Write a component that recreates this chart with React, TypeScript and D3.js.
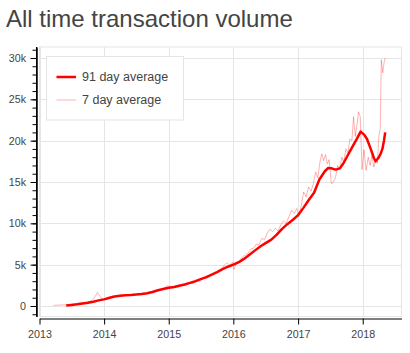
import { useEffect, useRef } from 'react';
import { select, scaleTime, scaleLinear, axisLeft, axisBottom, line, range, timeFormat } from 'd3';

// 91 day average (thick line)
const avg91Dates = [
  '2013-06-01', '2013-07-01', '2013-08-01', '2013-09-01', '2013-10-01', '2013-11-01', '2013-12-01',
  '2014-01-01', '2014-02-01', '2014-03-01', '2014-04-01', '2014-05-01', '2014-06-01', '2014-07-01',
  '2014-08-01', '2014-09-01', '2014-10-01', '2014-11-01', '2014-12-01',
  '2015-01-01', '2015-02-01', '2015-03-01', '2015-04-01', '2015-05-01', '2015-06-01', '2015-07-01',
  '2015-08-01', '2015-09-01', '2015-10-01', '2015-11-01', '2015-12-01',
  '2016-01-01', '2016-02-01', '2016-03-01', '2016-04-01', '2016-05-01', '2016-06-01', '2016-07-01',
  '2016-08-01', '2016-09-01', '2016-10-01', '2016-11-01', '2016-12-01',
  '2017-01-01', '2017-02-01', '2017-03-01', '2017-04-01', '2017-05-01', '2017-06-01', '2017-06-20',
  '2017-07-10', '2017-08-01', '2017-08-25', '2017-09-15', '2017-10-10', '2017-11-05', '2017-12-01',
  '2017-12-20', '2018-01-10', '2018-01-25', '2018-02-15', '2018-03-05', '2018-03-15', '2018-03-30',
  '2018-04-12', '2018-04-22', '2018-05-01', '2018-05-08',
];
const avg91Values = [
  50, 120, 200, 300, 400, 520, 680,
  800, 1000, 1150, 1250, 1300, 1320, 1380,
  1450, 1550, 1700, 1900, 2050,
  2200, 2300, 2450, 2600, 2800, 3000, 3250,
  3500, 3800, 4100, 4450, 4750,
  5000, 5300, 5700, 6200, 6700, 7200, 7600,
  8000, 8600, 9300, 9900, 10400,
  11000, 11900, 12800, 13700, 15300, 16300, 16700,
  16650, 16500, 16650, 17300, 18300, 19300, 20300,
  21100, 20700, 20200, 19000, 17900, 17500, 17900,
  18400, 19000, 20000, 21000,
];

// 7 day average (thin faint line)
const avg7Dates = [
  '2013-03-20', '2013-05-01', '2013-06-01', '2013-07-01', '2013-08-01', '2013-09-01', '2013-10-01',
  '2013-10-25', '2013-11-10', '2013-11-25', '2013-12-05', '2013-12-20',
  '2014-01-10', '2014-02-01', '2014-02-20', '2014-03-15', '2014-04-05', '2014-04-25', '2014-05-15',
  '2014-06-05', '2014-06-25', '2014-07-15', '2014-08-05', '2014-08-25', '2014-09-15', '2014-10-05',
  '2014-10-25', '2014-11-15', '2014-12-05', '2014-12-25',
  '2015-01-15', '2015-02-05', '2015-02-25', '2015-03-15', '2015-04-05', '2015-04-25', '2015-05-15',
  '2015-06-05', '2015-06-25', '2015-07-15', '2015-08-05', '2015-08-25', '2015-09-15', '2015-10-05',
  '2015-10-25', '2015-11-10', '2015-11-25', '2015-12-10', '2015-12-28',
  '2016-01-05', '2016-01-20', '2016-02-05', '2016-02-20', '2016-03-10', '2016-03-25', '2016-04-10',
  '2016-04-25', '2016-05-10', '2016-05-25', '2016-06-10', '2016-06-25', '2016-07-10', '2016-07-25',
  '2016-08-10', '2016-08-25', '2016-09-10', '2016-09-25', '2016-10-10', '2016-10-25', '2016-11-10',
  '2016-11-25', '2016-12-10', '2016-12-25',
  '2017-01-05', '2017-01-20', '2017-02-01', '2017-02-15', '2017-03-01', '2017-03-15', '2017-03-28',
  '2017-04-10', '2017-04-22', '2017-05-05', '2017-05-15', '2017-05-25', '2017-06-05', '2017-06-15',
  '2017-06-25', '2017-07-08', '2017-07-20', '2017-08-01', '2017-08-12', '2017-08-22', '2017-09-05',
  '2017-09-15', '2017-09-28', '2017-10-10', '2017-10-20', '2017-11-01', '2017-11-10', '2017-11-20',
  '2017-11-30', '2017-12-08', '2017-12-18', '2017-12-28',
  '2018-01-08', '2018-01-20', '2018-02-01', '2018-02-12', '2018-02-22', '2018-03-05', '2018-03-15',
  '2018-03-25', '2018-04-02', '2018-04-10', '2018-04-16', '2018-04-24', '2018-05-02', '2018-05-08',
];
const avg7Values = [
  80, 120, 150, 200, 280, 380, 480,
  650, 1100, 1650, 1300, 850,
  880, 1050, 1200, 1150, 1300, 1250, 1350,
  1300, 1400, 1350, 1500, 1450, 1650, 1600,
  1850, 1950, 2150, 2450,
  2250, 2400, 2300, 2600, 2500, 2800, 2700,
  3050, 3000, 3400, 3350, 3700, 3900, 4100,
  4400, 4900, 5250, 4950, 5300,
  4450, 5200, 5500, 5900, 6200, 6400, 6900,
  7000, 7500, 7400, 8200, 8000, 8800, 9300,
  9000, 9400, 9100, 9800, 10300, 10000, 10800,
  11600, 11200, 11800,
  10800, 12300, 13800, 13200, 14400, 13900, 14800,
  16200, 15500, 17500, 18400, 17600, 18300, 17200,
  17700, 14800, 15000, 15600, 17000, 16500, 18000,
  17400, 19000, 18500, 20200, 20000, 22900, 20500,
  22000, 23500, 22900, 16500,
  18900, 16400, 18000, 17000, 18200, 16800, 17700,
  17300, 20500, 21500, 29800, 28200, 29500, 30000,
];

const yTicks = [0, 5000, 10000, 15000, 20000, 25000, 30000];
const yMinorTicks = range(-1000, 31001, 1000);
const xTickYears = [2013, 2014, 2015, 2016, 2017, 2018];
const legendLabels = ['91 day average', '7 day average'];

const App = () => {
  const ref = useRef<SVGSVGElement>(null);

  useEffect(() => {
    const width = 410;
    const height = 353;
    const frame = { left: 39.5, right: 401.5, top: 47, bottom: 316.5 };
    const gridColor = '#e5e5e5';
    const textColor = '#444';

    const svg = select(ref.current);
    svg.selectAll('*').remove();
    svg.attr('width', width).attr('height', height);

    const x = scaleTime()
      .domain([new Date(2013, 0, 1), new Date(2018, 7, 8)])
      .range([frame.left, frame.right]);
    const y = scaleLinear().domain([-1270, 31330]).range([frame.bottom, frame.top]);

    svg.append('rect')
      .attr('width', width)
      .attr('height', height)
      .attr('fill', '#fff');

    // title
    svg.append('text')
      .attr('x', 6)
      .attr('y', 27)
      .attr('font-family', 'Liberation Sans, Arial, sans-serif')
      .attr('font-size', '24px')
      .attr('fill', textColor)
      .text('All time transaction volume');

    // grid
    const xTickDates = xTickYears.map((yr) => new Date(yr, 0, 1));
    svg.append('g')
      .selectAll('line')
      .data(xTickDates)
      .enter()
      .append('line')
      .attr('x1', (d) => Math.round(x(d)) + 0.5)
      .attr('x2', (d) => Math.round(x(d)) + 0.5)
      .attr('y1', frame.top)
      .attr('y2', frame.bottom)
      .attr('stroke', gridColor);
    svg.append('g')
      .selectAll('line')
      .data(yTicks)
      .enter()
      .append('line')
      .attr('x1', frame.left)
      .attr('x2', frame.right)
      .attr('y1', (d) => Math.round(y(d)) + 0.5)
      .attr('y2', (d) => Math.round(y(d)) + 0.5)
      .attr('stroke', gridColor);

    svg.append('rect')
      .attr('x', frame.left)
      .attr('y', frame.top)
      .attr('width', frame.right - frame.left)
      .attr('height', frame.bottom - frame.top)
      .attr('fill', 'none')
      .attr('stroke', gridColor);

    // series
    const lineGen = line<[Date, number]>()
      .x((d) => x(d[0]))
      .y((d) => y(d[1]));
    const parse = (s: string) => new Date(s + 'T00:00:00');

    svg.append('path')
      .datum(avg7Dates.map((d, i) => [parse(d), avg7Values[i]] as [Date, number]))
      .attr('d', lineGen)
      .attr('fill', 'none')
      .attr('stroke', 'red')
      .attr('stroke-opacity', 0.3)
      .attr('stroke-width', 1);

    svg.append('path')
      .datum(avg91Dates.map((d, i) => [parse(d), avg91Values[i]] as [Date, number]))
      .attr('d', lineGen)
      .attr('fill', 'none')
      .attr('stroke', 'red')
      .attr('stroke-width', 2.5)
      .attr('stroke-linejoin', 'round');

    // y axis
    const yAxisG = svg.append('g').attr('transform', 'translate(36.5,0)');
    yAxisG.call(
      axisLeft(y)
        .tickValues(yMinorTicks)
        .tickSize(4)
        .tickSizeOuter(0)
        .tickFormat(() => '')
    );
    yAxisG.append('g').call(
      axisLeft(y)
        .tickValues(yTicks)
        .tickSize(6)
        .tickSizeOuter(0)
        .tickPadding(4.5)
        .tickFormat((d) => (+d === 0 ? '0' : `${+d / 1000}k`))
    );
    svg.append('line')
      .attr('x1', 36.5)
      .attr('x2', 36.5)
      .attr('y1', frame.top)
      .attr('y2', frame.bottom)
      .attr('stroke', '#000');

    // x axis
    svg.append('g')
      .attr('transform', 'translate(0,318.5)')
      .call(
        axisBottom(x)
          .tickValues(xTickDates)
          .tickSize(6)
          .tickSizeOuter(0)
          .tickPadding(6)
          .tickFormat((d) => timeFormat('%Y')(d as Date))
      );

    svg.selectAll('.tick text')
      .attr('fill', textColor)
      .attr('font-family', 'Liberation Sans, Arial, sans-serif')
      .attr('font-size', '10.7px');
    svg.selectAll('.domain').attr('stroke', '#000');
    svg.selectAll('.tick line').attr('stroke', '#000');

    // legend
    const legend = svg.append('g');
    legend.append('rect')
      .attr('x', 46.5)
      .attr('y', 56.5)
      .attr('width', 137)
      .attr('height', 63.5)
      .attr('fill', '#fff')
      .attr('fill-opacity', 0.95)
      .attr('stroke', gridColor);
    const items = legend.selectAll('g.item')
      .data(legendLabels)
      .enter()
      .append('g')
      .attr('transform', (_, i) => `translate(0,${77 + i * 23})`);
    items.append('line')
      .attr('x1', 56.5)
      .attr('x2', 76)
      .attr('stroke', 'red')
      .attr('stroke-width', (_, i) => (i === 0 ? 2.5 : 1))
      .attr('stroke-opacity', (_, i) => (i === 0 ? 1 : 0.3));
    items.append('text')
      .attr('x', 82)
      .attr('dy', '0.35em')
      .attr('font-family', 'Liberation Sans, Arial, sans-serif')
      .attr('font-size', '12.5px')
      .attr('fill', textColor)
      .text((d) => d);
  }, []);

  return <svg ref={ref} style={{ position: 'absolute', left: 0, top: 0 }}></svg>;
};

export default App;
